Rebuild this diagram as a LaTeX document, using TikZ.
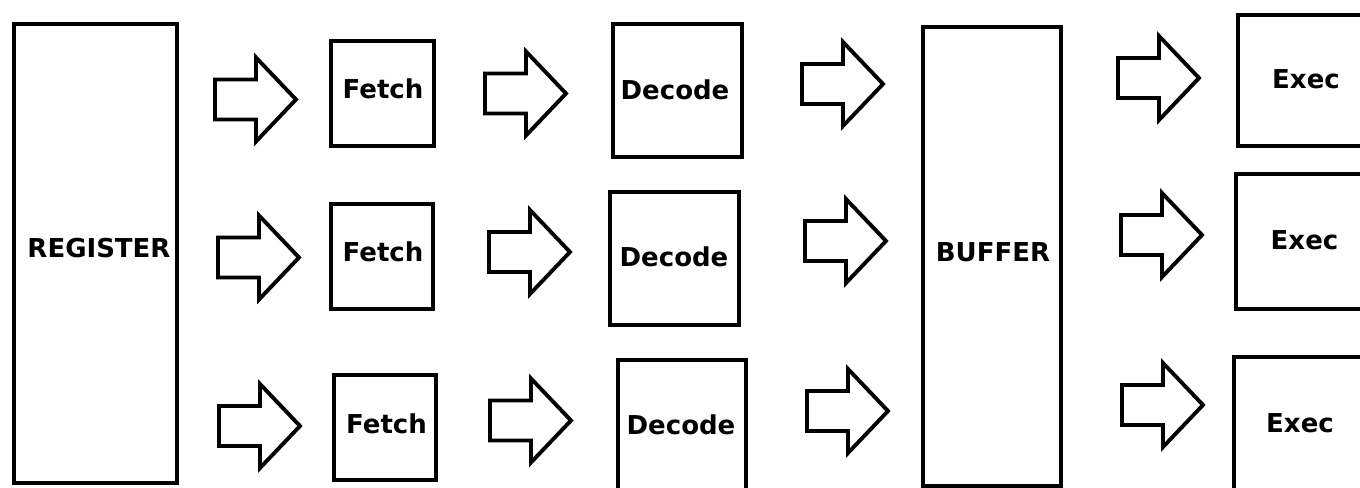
\documentclass[tikz,border=0pt]{standalone}
\usepackage{fontspec}
\setmainfont{DejaVu Sans}
\usetikzlibrary{fit}
\tikzset{
  box/.style={draw=black, line width=3pt, inner sep=0pt, outer sep=0pt, fill=white},
  lbl/.style={anchor=base, inner sep=0pt, font=\bfseries\fontsize{19.5}{20}\selectfont},
  blockarrow/.pic={
    \draw[line width=2.9pt, line join=miter, fill=white]
      (0,-20) -- (41,-20) -- (41,-42) -- (81,0) -- (41,42) -- (41,20) -- (0,20) -- cycle;
  }
}
\begin{document}
\begin{tikzpicture}[x=0.75pt, y=-0.75pt]
\useasboundingbox (0,0) rectangle (1360,488);
\fill[white] (0,0) rectangle (1360,488);
\clip (0,0) rectangle (1360,488);
% register
\node[box, fit={(13.5,24.5) (176.5,482.5)}] (reg) {};
\node[lbl] (regt) at (99,258) {REGISTER};
% fetch
\node[box, fit={(330.5,41.5) (433.5,146.5)}] (f1) {};
\node[box, fit={(330.5,204.5) (432.5,309.5)}] (f2) {};
\node[box, fit={(333.5,374.5) (435.5,479.5)}] (f3) {};
\node[lbl] (f1t) at (383,99) {Fetch};
\node[lbl] (f2t) at (383,262) {Fetch};
\node[lbl] (f3t) at (386.5,433) {Fetch};
% decode
\node[box, fit={(612.5,24.5) (741.5,157.5)}] (d1) {};
\node[box, fit={(609.5,192.5) (738.5,325.5)}] (d2) {};
\node[box, fit={(617.5,359.5) (745.5,505)}] (d3) {};
\node[lbl] (d1t) at (675,99.5) {Decode};
\node[lbl] (d2t) at (674,267) {Decode};
\node[lbl] (d3t) at (681,434) {Decode};
% buffer
\node[box, fit={(922.5,27.5) (1060.5,485.5)}] (buf) {};
\node[lbl] (buft) at (993,262) {BUFFER};
% exec
\node[box, fit={(1237.5,15.5) (1400,146.5)}] (e1) {};
\node[box, fit={(1235.5,174.5) (1400,309.5)}] (e2) {};
\node[box, fit={(1233.5,356.5) (1400,505)}] (e3) {};
\node[lbl] (e1t) at (1306,89) {Exec};
\node[lbl] (e2t) at (1304.5,250) {Exec};
\node[lbl] (e3t) at (1300,432) {Exec};
% arrows
\pic (a11) at (215,99.5) {blockarrow};
\pic (a21) at (218,257.5) {blockarrow};
\pic (a31) at (219,426) {blockarrow};
\pic (a12) at (485,93.5) {blockarrow};
\pic (a22) at (489,252) {blockarrow};
\pic (a32) at (490,420.5) {blockarrow};
\pic (a13) at (802,84) {blockarrow};
\pic (a23) at (805,241) {blockarrow};
\pic (a33) at (807,411) {blockarrow};
\pic (a14) at (1118,78) {blockarrow};
\pic (a24) at (1121,235) {blockarrow};
\pic (a34) at (1122,405) {blockarrow};
\end{tikzpicture}
\end{document}
